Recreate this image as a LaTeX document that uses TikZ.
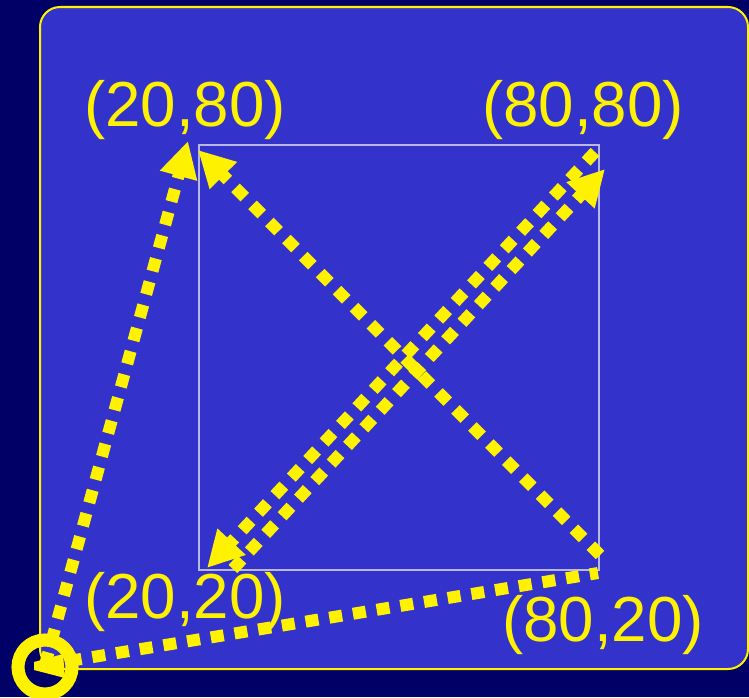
\documentclass[tikz,border=0pt]{standalone}
\usepackage{fontspec}
\setmainfont{Liberation Sans}
\usetikzlibrary{arrows.meta}
\definecolor{navy}{HTML}{000066}
\definecolor{panel}{HTML}{3333CC}
\definecolor{frame}{HTML}{B8B8E0}
\tikzset{
  ray/.style={
    draw = yellow,
    line width = 0.12cm,
    dash pattern = on 0.13cm off 0.11cm
  },
  rayhead/.style={
    ray,
    -{Triangle[length=0.36cm, width=0.36cm]}
  },
  corner/.style={
    text = yellow,
    anchor = base,
    inner sep = 0pt,
    font = \fontsize{18.1}{21}\selectfont
  },
}

\begin{document}
\begin{tikzpicture}[x=0.01cm, y=-0.01cm]
\useasboundingbox (0,0) rectangle (749,697);
\fill[navy] (0,0) rectangle (749,697);
\draw[yellow, line width=0.02cm, fill=panel, rounded corners=0.2cm] (40,7) rectangle (748,669);
\draw[frame, line width=0.015cm] (199,145) rectangle (599,570);
% end points of the rays
\coordinate (o) at (45,665);
\coordinate (ultip) at (188,141);
\coordinate (brend) at (598,573);
\coordinate (brstart) at (600,555);
\coordinate (uldiag) at (198,150);
\coordinate (urstart) at (595,152);
\coordinate (bltip) at (207,568);
\coordinate (blstart) at (233,569);
\coordinate (urtip) at (605,169);
\draw[rayhead] (o) -- (ultip);
\draw[ray] (o) -- (brend);
\draw[rayhead] (brstart) -- (uldiag);
\draw[rayhead] (urstart) -- (bltip);
\draw[rayhead] (blstart) -- (urtip);
% origin marker
\draw[yellow, line width=0.13cm] (45,667) circle [radius=0.27cm];
\fill[yellow] (34,662) -- (63,654) -- (65,678) -- (34,670) -- cycle;
\node[corner] (c2080) at (185,126) {(20,80)};
\node[corner] (c8080) at (583,126) {(80,80)};
\node[corner] (c2020) at (185,618) {(20,20)};
\node[corner] (c8020) at (603,641) {(80,20)};
\end{tikzpicture}
\end{document}
